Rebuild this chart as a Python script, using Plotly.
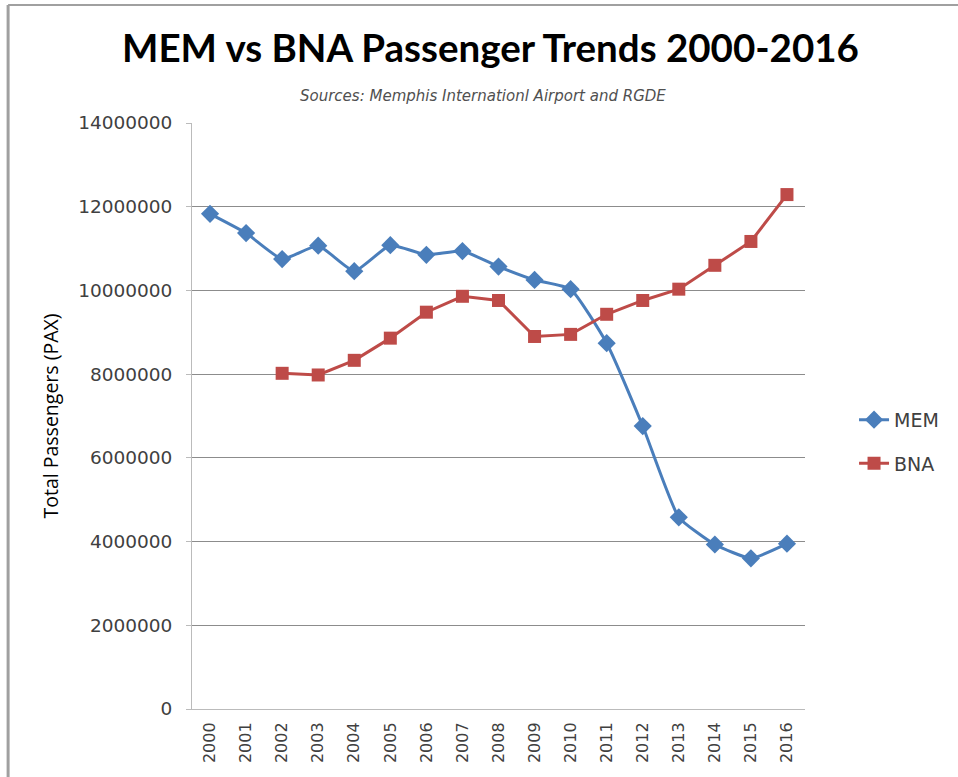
import plotly.graph_objects as go

# Data
years = [str(y) for y in range(2000, 2017)]
mem = [11830000, 11370000, 10750000, 11070000, 10460000, 11080000, 10850000,
       10940000, 10570000, 10250000, 10030000, 8740000, 6760000, 4580000,
       3930000, 3600000, 3950000]
bna = [None, None, 8020000, 7980000, 8330000, 8860000, 9480000, 9860000,
       9760000, 8900000, 8950000, 9430000, 9760000, 10030000, 10600000,
       11170000, 12290000]
y_ticks = [0, 2000000, 4000000, 6000000, 8000000, 10000000, 12000000, 14000000]

fig = go.Figure()
fig.add_trace(go.Scatter(
    x=years, y=mem, name='MEM', mode='lines+markers', legendgroup='mem',
    line=dict(color='#4A7EBB', width=3, shape='spline', smoothing=0.45),
    marker=dict(symbol='diamond', size=14, color='#4A7EBB')))
fig.add_trace(go.Scatter(
    x=years, y=bna, name='BNA', mode='lines+markers', legendgroup='bna',
    line=dict(color='#BE4B48', width=3),
    marker=dict(symbol='square', size=13, color='#BE4B48')))

fig.update_layout(
    width=958, height=777,
    margin=dict(l=192, r=153, t=123, b=68),
    plot_bgcolor='white', paper_bgcolor='white',
    font=dict(family='DejaVu Sans, sans-serif', color='#404040', size=15),
    title=dict(text='<b>MEM vs BNA Passenger Trends 2000-2016</b>',
               x=0.512, xanchor='center', y=0.938, yanchor='middle',
               font=dict(size=38.5, color='black', family='Lato')),
    legend=dict(x=1.08, y=0.456, yanchor='middle', tracegroupgap=16,
                font=dict(size=19, color='#404040', family='DejaVu Sans'),
                traceorder='grouped'),
    annotations=[dict(text='<i>Sources: Memphis Internationl Airport and RGDE</i>',
                      xref='paper', yref='paper', x=0.475, y=1.065,
                      showarrow=False,
                      font=dict(size=15, color='#505050', family='DejaVu Sans'))],
    shapes=[
        dict(type='line', xref='paper', yref='paper', x0=-0.3, x1=1.3,
             y0=1.2014, y1=1.2014, line=dict(color='#A0A0A0', width=2)),
        dict(type='line', xref='paper', yref='paper', x0=-0.3, x1=-0.3,
             y0=-0.12, y1=1.2014, line=dict(color='#A0A0A0', width=3)),
    ],
)
fig.update_xaxes(type='category', range=[-0.5, 16.5], tickangle=-90,
                 showgrid=False, showline=True, linecolor='#BBBBBB',
                 linewidth=1, ticks='', ticklabelstandoff=6,
                 tickfont=dict(size=16, color='#404040', family='DejaVu Sans'))
fig.update_yaxes(range=[0, 14000000], tickvals=y_ticks,
                 ticktext=[str(v) for v in y_ticks],
                 showgrid=True, gridcolor='#8C8C8C', gridwidth=1,
                 showline=True, linecolor='#BBBBBB', ticks='outside',
                 ticklen=5, tickcolor='#BBBBBB', zeroline=False,
                 ticklabelstandoff=10,
                 title=dict(text='Total Passengers (PAX)', standoff=14,
                            font=dict(size=19.5, color='black', family='Open Sans')),
                 tickfont=dict(size=18.5, color='#404040', family='DejaVu Sans'))

# drop the default page margin so the figure sits at the window origin
fig.write_html('out.html', config={'displayModeBar': False},
               post_script="document.body.style.margin='0px';")
